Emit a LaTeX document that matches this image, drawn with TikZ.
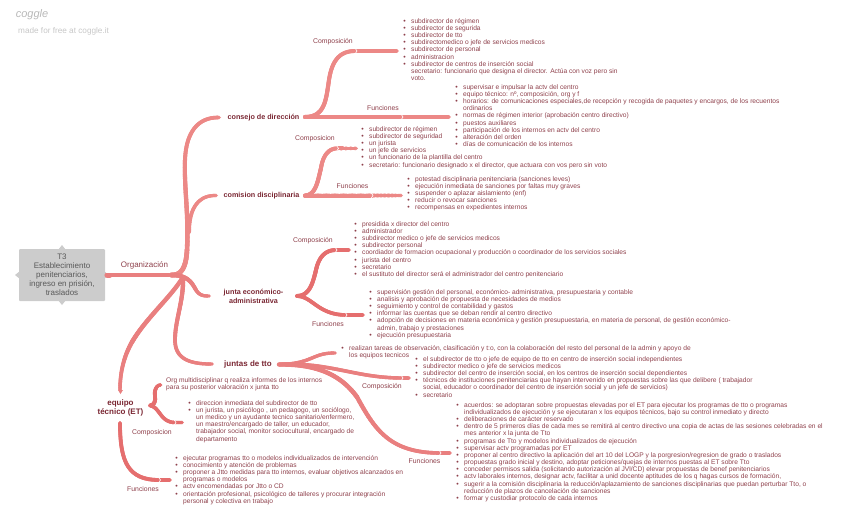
\documentclass[tikz,border=0pt]{standalone}
\usepackage{fontspec}
\setmainfont{Liberation Sans}
\usetikzlibrary{arrows.meta,calc}
\definecolor{txt}{HTML}{8E404B}
\definecolor{bld}{HTML}{7A2733}
\definecolor{lnkA}{HTML}{EC8886}
\definecolor{lnkB}{HTML}{E56E6E}
\definecolor{lnkC}{HTML}{E97F7F}
\newcommand\bl{\leavevmode\llap{\fontsize{7}{7}\selectfont\textbullet\hspace{5.4pt}}}
\tikzset{
 listnode/.style={anchor=north west,inner sep=0pt,align=left,text=txt,font=\fontsize{6.65}{7.17}\selectfont},
 lab/.style={inner sep=0pt,text=txt,font=\fontsize{6.85}{7.2}\selectfont},
 head/.style={inner sep=0pt,align=center,text=bld,font=\fontsize{7.2}{9}\selectfont\bfseries},
 root/.style={fill=black!20,rounded corners=1pt,minimum width=86pt,minimum height=52pt,inner sep=0pt,align=center,text=black!65,font=\fontsize{8}{8.9}\selectfont},
 nt/.style={draw=white,line width=.6pt},
}
\newcommand\notch[3][1.8]{\draw[nt] ($(#2,#3)+(-#1,-2.6)$) -- (#2,#3) -- ($(#2,#3)+(-#1,2.6)$);}
% tapered bezier: colour, a, c1, c2, b, w0, w1
\newcommand\tl[7]{%
 \draw[#1,line width=#7pt,line cap=round] #2 .. controls #3 and #4 .. #5;
 \foreach \i in {0,...,23}{%
  \pgfmathsetmacro\tA{\i/24}\pgfmathsetmacro\tB{(\i+1)/24}\pgfmathsetmacro\lwd{#6+(#7-#6)*(\i+.5)/24}%
  \coordinate (qa) at ($#2!\tA!#3$);\coordinate (qb) at ($#3!\tA!#4$);\coordinate (qc) at ($#4!\tA!#5$);
  \coordinate (qd) at ($(qa)!\tA!(qb)$);\coordinate (qe) at ($(qb)!\tA!(qc)$);\coordinate (qf) at ($(qd)!\tA!(qe)$);
  \coordinate (ra) at ($#2!\tB!#3$);\coordinate (rb) at ($#3!\tB!#4$);\coordinate (rc) at ($#4!\tB!#5$);
  \coordinate (rd) at ($(ra)!\tB!(rb)$);\coordinate (re) at ($(rb)!\tB!(rc)$);\coordinate (rf) at ($(rd)!\tB!(re)$);
  \draw[#1,line width=\lwd pt,line cap=round] (qf) -- (rf);
 }}
\newcommand\tip[2]{\fill[#1] ($#2+(-2.5,-2.2)$) -- #2 -- ($#2+(-2.5,2.2)$) -- cycle;}
\begin{document}
\begin{tikzpicture}[x=1pt,y=-1pt]
\useasboundingbox (0,0) rectangle (848,527);
% logo
\node[inner sep=0pt,text=black!28,font=\fontsize{11}{11}\selectfont\itshape] (logo) at (32,15) {coggle};
\node[inner sep=0pt,anchor=west,text=black!22,font=\fontsize{8.2}{9}\selectfont] (made) at (18,31) {made for free at coggle.it};
% root
\fill[black!20] (62,245) -- (66,250) -- (58,250) -- cycle (62,305) -- (66,300) -- (58,300) -- cycle (15,275) -- (20,271) -- (20,279) -- cycle (109,275) -- (104,271) -- (104,279) -- cycle;
\node[root] (root) at (62,275) {T3\\Establecimiento\\penitenciarios,\\ingreso en prisión,\\traslados};
% heads
\node[head] (consejo) at (263.5,117.5) {consejo de dirección};
\node[head] (comision) at (261.5,195.5) {comision disciplinaria};
\node[head] (junta) at (253.5,296) {junta económico-\\administrativa};
\node[head,font=\fontsize{8}{9}\selectfont\bfseries] (juntas) at (248,364.5) {juntas de tto};
\node[head,font=\fontsize{8}{9}\selectfont\bfseries] (equipo) at (120.5,407.5) {equipo\\técnico (ET)};
% coordinates
\coordinate (rootR) at (107,275);
\coordinate (orgEnd) at (171,275);
\coordinate (hub) at (183,277);
\coordinate (tCons) at (218,117.5);
\coordinate (tComi) at (215,195.5);
\coordinate (tJunta) at (208,296);
\coordinate (tJuntas) at (211,364);
\coordinate (tEq) at (120,390);
% main links
\tl{lnkC}{(rootR)}{(130,275)}{(150,275)}{(orgEnd)}{5}{4.7}
\notch{172}{275}
\tl{lnkA}{(orgEnd)}{(180,275.5)}{(186,270)}{(187,250)}{4.8}{4.6}
\tl{lnkA}{(187,250)}{(189,215)}{(184,190)}{(185,160)}{4.6}{4}
\tl{lnkA}{(185,160)}{(186,132)}{(198,117.5)}{(tCons)}{4}{3.6}
\tip{lnkA}{(221,117.5)}
\tl{lnkA}{(189,232)}{(189,212)}{(196,195.5)}{(tComi)}{4}{3.2}
\tip{lnkA}{(218,195.5)}
\tl{lnkC}{(hub)}{(184,300)}{(175,320)}{(175,340)}{4.4}{3.8}
\tl{lnkC}{(175,340)}{(175,358)}{(188,364)}{(tJuntas)}{3.8}{3.2}
\tip{lnkC}{(214,364)}
\tl{lnkC}{(hub)}{(172,296)}{(146,318)}{(132,342)}{3.4}{4.4}
\tl{lnkC}{(132,342)}{(124,356)}{(120,372)}{(tEq)}{4.4}{3.4}
\fill[lnkC] (118,390) -- (120.5,394) -- (123,390) -- cycle;
\tl{lnkC}{(orgEnd)}{(188,275)}{(192,283)}{(196,290)}{4.5}{3.8}
\tl{lnkC}{(196,290)}{(199,295)}{(203,296)}{(tJunta)}{3.8}{3}
\tip{lnkC}{(211,296)}
% consejo children
\coordinate (a1) at (355,51); \coordinate (a2) at (396,51); \coordinate (a0) at (305,117);
\tl{lnkA}{(a0)}{(325,117)}{(326,100)}{(329,80)}{4}{4}
\tl{lnkA}{(329,80)}{(332,60)}{(340,51)}{(a1)}{4}{3.8}
\tl{lnkA}{(a1)}{(370,51)}{(385,51)}{(a2)}{4}{3.4}
\notch{357}{51}\tip{lnkA}{(399,51)}
\coordinate (b1) at (402,117); \coordinate (b2) at (448,117);
\tl{lnkA}{(a0)}{(340,117)}{(370,117)}{(b1)}{4}{4}
\tl{lnkA}{(b1)}{(420,117)}{(435,117)}{(b2)}{4}{3.4}
\notch{403}{117}\tip{lnkA}{(451,117)}
% comision children
\coordinate (c0) at (305,195.5); \coordinate (c1) at (337,148.4); \coordinate (c2) at (355,148.4);
\tl{lnkA}{(c0)}{(316,195.5)}{(318,180)}{(321,168)}{4}{4}
\tl{lnkA}{(321,168)}{(323,155)}{(329,148.4)}{(c1)}{4}{3.8}
\tl{lnkA}{(c1)}{(342,148.4)}{(350,148.4)}{(c2)}{4}{3.4}
\notch{338.5}{148.4}\tip{lnkA}{(358,148.4)}
\coordinate (d1) at (372,195.5); \coordinate (d2) at (400,195.5);
\tl{lnkA}{(c0)}{(325,195.5)}{(350,195.5)}{(d1)}{4}{4}
\tl{lnkA}{(d1)}{(380,195.5)}{(392,195.5)}{(d2)}{4}{3.4}
\notch{373}{195.5}\tip{lnkA}{(403,195.5)}
% junta children
\coordinate (e0) at (297,296); \coordinate (e1) at (336,250); \coordinate (e2) at (348,250); \coordinate (f1) at (346,315); \coordinate (f2) at (362,315);
\tl{lnkB}{(e0)}{(310,296)}{(313,282)}{(316,270)}{3.8}{4}
\tl{lnkB}{(316,270)}{(319,256)}{(326,250)}{(e1)}{4}{3.8}
\tl{lnkB}{(e1)}{(340,250)}{(344,250)}{(e2)}{3.8}{3.2}
\notch{337}{250}\tip{lnkB}{(351,250)}
\tl{lnkB}{(e0)}{(312,296)}{(318,315)}{(f1)}{3.8}{3.6}
\tl{lnkB}{(f1)}{(350,315)}{(356,315)}{(f2)}{3.6}{3.2}
\notch{347}{315}\tip{lnkB}{(365,315)}
% juntas children
\coordinate (g0) at (279,364.5); \coordinate (g1) at (334,353); \coordinate (h1) at (402,378); \coordinate (h2) at (408,378); \coordinate (i1) at (440,453); \coordinate (i2) at (449,453);
\tl{lnkC}{(g0)}{(312,364)}{(312,353)}{(g1)}{3.6}{3.2}
\tip{lnkC}{(337,353)}
\tl{lnkC}{(g0)}{(330,362)}{(355,378)}{(h1)}{3.8}{3.4}
\tl{lnkC}{(h1)}{(404,378)}{(406,378)}{(h2)}{3.4}{3}
\notch{403}{378}\tip{lnkC}{(411,378)}
\tl{lnkC}{(g0)}{(322,364)}{(343,378)}{(357,397)}{3.8}{4.4}
\tl{lnkC}{(357,397)}{(375,430)}{(390,453)}{(i1)}{4.4}{3.6}
\tl{lnkC}{(i1)}{(443,453)}{(446,453)}{(i2)}{3.6}{3.2}
\notch{441}{453}\tip{lnkC}{(452,453)}
% equipo children
\coordinate (j0) at (150,405.5); \coordinate (j1) at (160,385); \coordinate (k1) at (175,422.5); \coordinate (k2) at (181,422.5);
\tl{lnkB}{(j0)}{(158,404)}{(154,396)}{(155,391)}{3.8}{3.8}
\tl{lnkB}{(155,391)}{(156,387)}{(158,385)}{(j1)}{3.8}{3}
\tip{lnkB}{(162.5,385)}
\tl{lnkB}{(j0)}{(160,407)}{(160,422.5)}{(k1)}{3.8}{3.4}
\tl{lnkB}{(k1)}{(177,422.5)}{(179,422.5)}{(k2)}{3.4}{3}
\notch{176}{422.5}\tip{lnkB}{(184,422.5)}
\coordinate (m0) at (120,423); \coordinate (m1) at (159,480); \coordinate (m2) at (169,480);
\tl{lnkB}{(m0)}{(120,462)}{(128,480)}{(m1)}{3.6}{3.8}
\tl{lnkB}{(m1)}{(162,480)}{(166,480)}{(m2)}{3.8}{3.2}
\notch{160.5}{480}\tip{lnkB}{(172,480)}
% labels
\node[lab,font=\fontsize{8}{9}\selectfont] (lOrg) at (144.5,265) {Organización};
\node[lab] (l1) at (333,41.5) {Composición};
\node[lab] (l2) at (383,108) {Funciones};
\node[lab] (l3) at (315,139) {Composicion};
\node[lab] (l4) at (352.5,186) {Funciones};
\node[lab] (l5) at (313,241) {Composición};
\node[lab] (l6) at (328,324.5) {Funciones};
\node[lab] (l7) at (382,387) {Composición};
\node[lab] (l8) at (424.5,461) {Funciones};
\node[lab] (l9) at (152,432.5) {Composicion};
\node[lab] (l10) at (143,489.5) {Funciones};
% lists
\node[listnode] (A) at (411,18.2) {\bl subdirector de régimen\\\bl subdirector de segurida\\\bl subdirector de tto\\\bl subdirectomedico o jefe de servicios medicos\\\bl subdirector de personal\\\bl administracion\\\bl subdirector de centros de inserción social\\secretario: funcionario que designa el director. Actúa con voz pero sin\\voto.};
\node[listnode] (B) at (463,84.2) {\bl supervisar e impulsar la actv del centro\\\bl equipo técnico: nº, composición, org y f\\\bl horarios: de comunicaciones especiales,de recepción y recogida de paquetes y encargos, de los recuentos\\ordinarios\\\bl normas de régimen interior (aprobación centro directivo)\\\bl puestos auxiliares\\\bl participación de los internos en actv del centro\\\bl alteración del orden\\\bl días de comunicación de los internos};
\node[listnode] (C) at (369,126.2) {\bl subdirector de régimen\\\bl subdirector de seguridad\\\bl un jurista\\\bl un jefe de servicios\\\bl un funcionario de la plantilla del centro\\\bl secretario: funcionario designado x el director, que actuara con vos pero sin voto};
\node[listnode] (D) at (415,176.2) {\bl potestad disciplinaria penitenciaria (sanciones leves)\\\bl ejecución inmediata de sanciones por faltas muy graves\\\bl suspender o aplazar aislamiento (enf)\\\bl reducir o revocar sanciones\\\bl recompensas en expedientes internos};
\node[listnode] (E) at (362,221.2) {\bl presidida x director del centro\\\bl administrador\\\bl subdirector medico o jefe de servicios medicos\\\bl subdirector personal\\\bl coordiador de formacion ocupacional y producción o coordinador de los servicios sociales\\\bl jurista del centro\\\bl secretario\\\bl el sustituto del director será el administrador del centro penitenciario};
\node[listnode] (F) at (377,289.2) {\bl supervisión gestión del personal, económico- administrativa, presupuestaria y contable\\\bl analisis y aprobación de propuesta de necesidades de medios\\\bl seguimiento y control de contabilidad y gastos\\\bl informar las cuentas que se deban rendir al centro directivo\\\bl adopción de decisiones en materia económica y gestión presupuestaria, en materia de personal, de gestión económico-\\admin, trabajo y prestaciones\\\bl ejecución presupuestaria};
\node[listnode] (G) at (349,345.2) {\bl realizan tareas de observación, clasificación y t:o, con la colaboración del resto del personal de la admin y apoyo de\\los equipos tecnicos};
\node[listnode] (H) at (423,356.2) {\bl el subdirector de tto o jefe de equipo de tto en centro de inserción social independientes\\\bl subdirector medico o jefe de servicios medicos\\\bl subdirector del centro de inserción social, en los centros de inserción social dependientes\\\bl técnicos de instituciones penitenciarias que hayan intervenido en propuestas sobre las que delibere ( trabajador\\social, educador o coordinador del centro de inserción social y un jefe de servicios)\\\bl secretario};
\node[listnode] (I) at (464,402.2) {\bl acuerdos: se adoptaran sobre propuestas elevadas por el ET para ejecutar los programas de tto o programas\\individualizados de ejecución y se ejecutaran x los equipos técnicos, bajo su control inmediato y directo\\\bl deliberaciones de carácter reservado\\\bl dentro de 5 primeros días de cada mes se remitirá al centro directivo una copia de actas de las sesiones celebradas en el\\mes anterior x la junta de Tto\\\bl programas de Tto y modelos individualizados de ejecución\\\bl supervisar actv programadas por ET\\\bl proponer al centro directivo la aplicación del art 10 del LOGP y la porgresion/regresion de grado o traslados\\\bl propuestas grado inicial y destino, adoptar peticiones/quejas de internos puestas al ET sobre Tto\\\bl conceder permisos salida (solicitando autorización al JVl/CD) elevar propuestas de benef penitenciarios\\\bl actv laborales internos, designar actv, facilitar a unid docente aptitudes de los q hagas cursos de formación,\\\bl sugerir a la comisión disciplinaria la reducción/aplazamiento de sanciones disciplinarias que puedan perturbar Tto, o\\reducción de plazos de cancelación de sanciones\\\bl formar y custodiar protocolo de cada internos};
\node[listnode] (O) at (166,377.2) {Org multidisciplinar q realiza informes de los internos\\para su posterior valoración x junta tto};
\node[listnode] (J) at (196,400.2) {\bl direccion inmediata del subdirector de tto\\\bl un jurista, un psicólogo , un pedagogo, un sociólogo,\\un medico y un ayudante tecnico sanitario/enfermero,\\un maestro/encargado de taller, un educador,\\trabajador social, monitor sociocultural, encargado de\\departamento};
\node[listnode] (K) at (183,455.2) {\bl ejecutar programas tto o modelos individualizados de intervención\\\bl conocimiento y atención de problemas\\\bl proponer a Jtto medidas para tto internos, evaluar objetivos alcanzados en\\programas o modelos\\\bl actv encomendadas por Jtto o CD\\\bl orientación profesional, psicológico de talleres y procurar integración\\personal y colectiva en trabajo};
\end{tikzpicture}
\end{document}
